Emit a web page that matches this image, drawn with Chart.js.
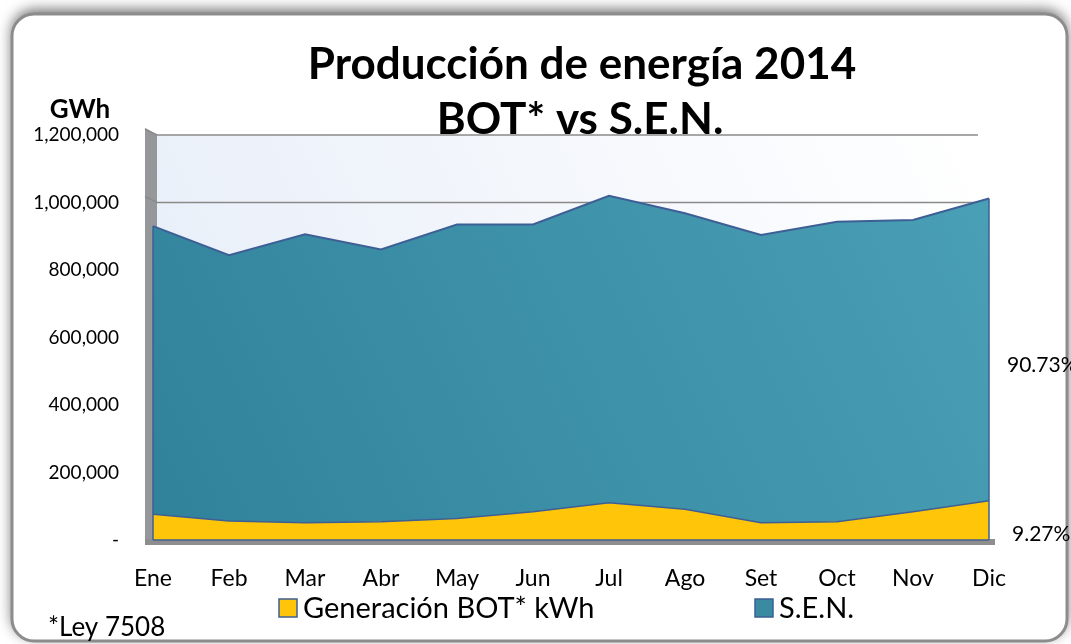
<!DOCTYPE html>
<html><head><meta charset="utf-8">
<script src="https://cdn.jsdelivr.net/npm/chart.js@4"></script>
<style>html,body{margin:0;padding:0;background:#fff;overflow:hidden}canvas{display:block}</style>
</head><body>
<canvas id="c" width="1071" height="644"></canvas>
<script>
const months = ['Ene','Feb','Mar','Abr','May','Jun','Jul','Ago','Set','Oct','Nov','Dic'];
const botValues = [76000, 56000, 51000, 54000, 64000, 84000, 110000, 91000, 51000, 54000, 84000, 116000];
const senValues = [854000, 788000, 855000, 807000, 871000, 851000, 910000, 877000, 853000, 889000, 864000, 896000];
const yTicks = [0, 200000, 400000, 600000, 800000, 1000000, 1200000];
const gridValues = [1000000, 1200000];
const seriesNames = ['Generación BOT* kWh', 'S.E.N.'];
const shareLabels = ['9.27%', '90.73%'];
const titleLines = ['Producción de energía 2014', 'BOT* vs S.E.N.'];
const yUnit = 'GWh';
const footnote = '*Ley 7508';

const FONT = 'Lato';
const BORDER = '#3d5f95';
const YELLOW = '#ffc508';

const decor = {
  id: 'decor',
  beforeDraw(chart) {
    const ctx = chart.ctx;
    ctx.save();
    ctx.fillStyle = '#ffffff';
    ctx.fillRect(0, 0, chart.width, chart.height);
    ctx.shadowColor = 'rgba(0,0,0,0.6)';
    ctx.shadowBlur = 14;
    ctx.shadowOffsetY = -4;
    ctx.beginPath();
    ctx.roundRect(12, 14, 1055, 627, 22);
    ctx.fillStyle = '#ffffff';
    ctx.fill();
    ctx.shadowColor = 'transparent';
    ctx.lineWidth = 3;
    ctx.strokeStyle = '#8c8c8c';
    ctx.stroke();
    ctx.restore();
  },
  beforeDatasetsDraw(chart) {
    const ctx = chart.ctx;
    const a = chart.chartArea;
    const y = chart.scales.y;
    const wallL = a.left + 4, wallR = a.right - 11;
    ctx.save();
    const g = ctx.createLinearGradient(wallL, a.bottom, wallR, a.top);
    g.addColorStop(0, '#e6edf8');
    g.addColorStop(1, '#ffffff');
    ctx.fillStyle = g;
    ctx.fillRect(wallL, a.top, wallR - wallL, a.bottom - a.top);
    ctx.beginPath();
    ctx.moveTo(a.left - 8, a.top - 7);
    ctx.lineTo(wallL, a.top);
    ctx.lineTo(wallL, a.bottom);
    ctx.lineTo(a.left - 8, a.bottom + 5);
    ctx.closePath();
    ctx.fillStyle = '#96979b';
    ctx.fill();
    ctx.fillStyle = '#8e8e8e';
    ctx.fillRect(a.left - 8, a.bottom - 1, a.right - a.left + 14, 6);
    ctx.strokeStyle = '#8a8a8a';
    ctx.lineWidth = 1.5;
    gridValues.forEach(v => {
      const py = y.getPixelForValue(v);
      ctx.beginPath();
      ctx.moveTo(a.left - 8, py - 6);
      ctx.lineTo(wallL, py);
      ctx.lineTo(wallR, py);
      ctx.stroke();
    });
    ctx.restore();
  },
  afterDatasetsDraw(chart) {
    const ctx = chart.ctx;
    const x = chart.scales.x, y = chart.scales.y;
    ctx.save();
    ctx.strokeStyle = BORDER;
    ctx.lineWidth = 1.5;
    [0, months.length - 1].forEach(i => {
      const px = x.getPixelForValue(i);
      const top = y.getPixelForValue(botValues[i] + senValues[i]);
      ctx.beginPath();
      ctx.moveTo(px, y.getPixelForValue(0));
      ctx.lineTo(px, top);
      ctx.stroke();
    });
    ctx.beginPath();
    ctx.moveTo(x.getPixelForValue(0), y.getPixelForValue(0));
    ctx.lineTo(x.getPixelForValue(months.length - 1), y.getPixelForValue(0));
    ctx.stroke();
    ctx.restore();
  },
  afterDraw(chart) {
    const ctx = chart.ctx;
    ctx.save();
    ctx.fillStyle = '#000';
    ctx.textBaseline = 'alphabetic';
    ctx.textAlign = 'center';
    ctx.font = `bold 44px ${FONT}`;
    ctx.fillText(titleLines[0], 582, 79);
    ctx.fillText(titleLines[1], 580, 134);
    ctx.font = `bold 26px ${FONT}`;
    ctx.fillText(yUnit, 80, 118);
    ctx.textAlign = 'left';
    ctx.font = `29px ${FONT}`;
    const items = [
      {x: 279, fill: YELLOW, text: seriesNames[0]},
      {x: 755, fill: '#3a8aa1', text: seriesNames[1]}
    ];
    items.forEach(it => {
      ctx.fillStyle = it.fill;
      ctx.fillRect(it.x, 599, 18, 18);
      ctx.strokeStyle = BORDER;
      ctx.lineWidth = 1.5;
      ctx.strokeRect(it.x, 599, 18, 18);
      ctx.fillStyle = '#000';
      ctx.fillText(it.text, it.x + 24, 618);
    });
    ctx.font = `21px ${FONT}`;
    ctx.fillStyle = '#000';
    ctx.textBaseline = 'middle';
    ctx.fillText(shareLabels[1], 1007, 365);
    ctx.fillText(shareLabels[0], 1012, 534);
    ctx.textBaseline = 'alphabetic';
    ctx.font = `26px ${FONT}`;
    ctx.fillText(footnote, 48, 636);
    ctx.restore();
  }
};

const ctx = document.getElementById('c').getContext('2d');
new Chart(ctx, {
  type: 'line',
  data: {
    labels: months,
    datasets: [
      {label: seriesNames[0], data: botValues, fill: 'origin', backgroundColor: YELLOW,
       borderColor: BORDER, borderWidth: 1.5, pointRadius: 0, tension: 0},
      {label: seriesNames[1], data: senValues, fill: '-1',
       backgroundColor: (c) => {
         const ch = c.chart; const a = ch.chartArea;
         if (!a) return '#3a8aa1';
         const g = ch.ctx.createLinearGradient(a.left, a.bottom, a.right, a.top);
         g.addColorStop(0, '#30829a');
         g.addColorStop(1, '#4aa0b6');
         return g;
       },
       borderColor: BORDER, borderWidth: 2, pointRadius: 0, tension: 0}
    ]
  },
  options: {
    responsive: false, animation: false, devicePixelRatio: 1,
    layout: {padding: {top: 135, right: 82, left: 0, bottom: 0}},
    plugins: {legend: {display: false}, title: {display: false}, tooltip: {enabled: false}},
    scales: {
      x: {
        offset: false,
        grid: {display: false, drawTicks: false}, border: {display: false},
        ticks: {padding: 25, font: {family: FONT, size: 23}, color: '#000', maxRotation: 0, autoSkip: false},
        afterFit(s) { s.height = 104; }
      },
      y: {
        stacked: true, min: 0, max: 1200000,
        afterBuildTicks(s) { s.ticks = yTicks.map(v => ({value: v})); },
        ticks: {callback: v => v === 0 ? '-' : v.toLocaleString('en-US'), padding: 34,
                font: {family: FONT, size: 19}, color: '#000'},
        grid: {display: false, drawTicks: false}, border: {display: false},
        afterFit(s) { s.width = 153; }
      }
    }
  },
  plugins: [decor]
});
</script>
</body></html>
